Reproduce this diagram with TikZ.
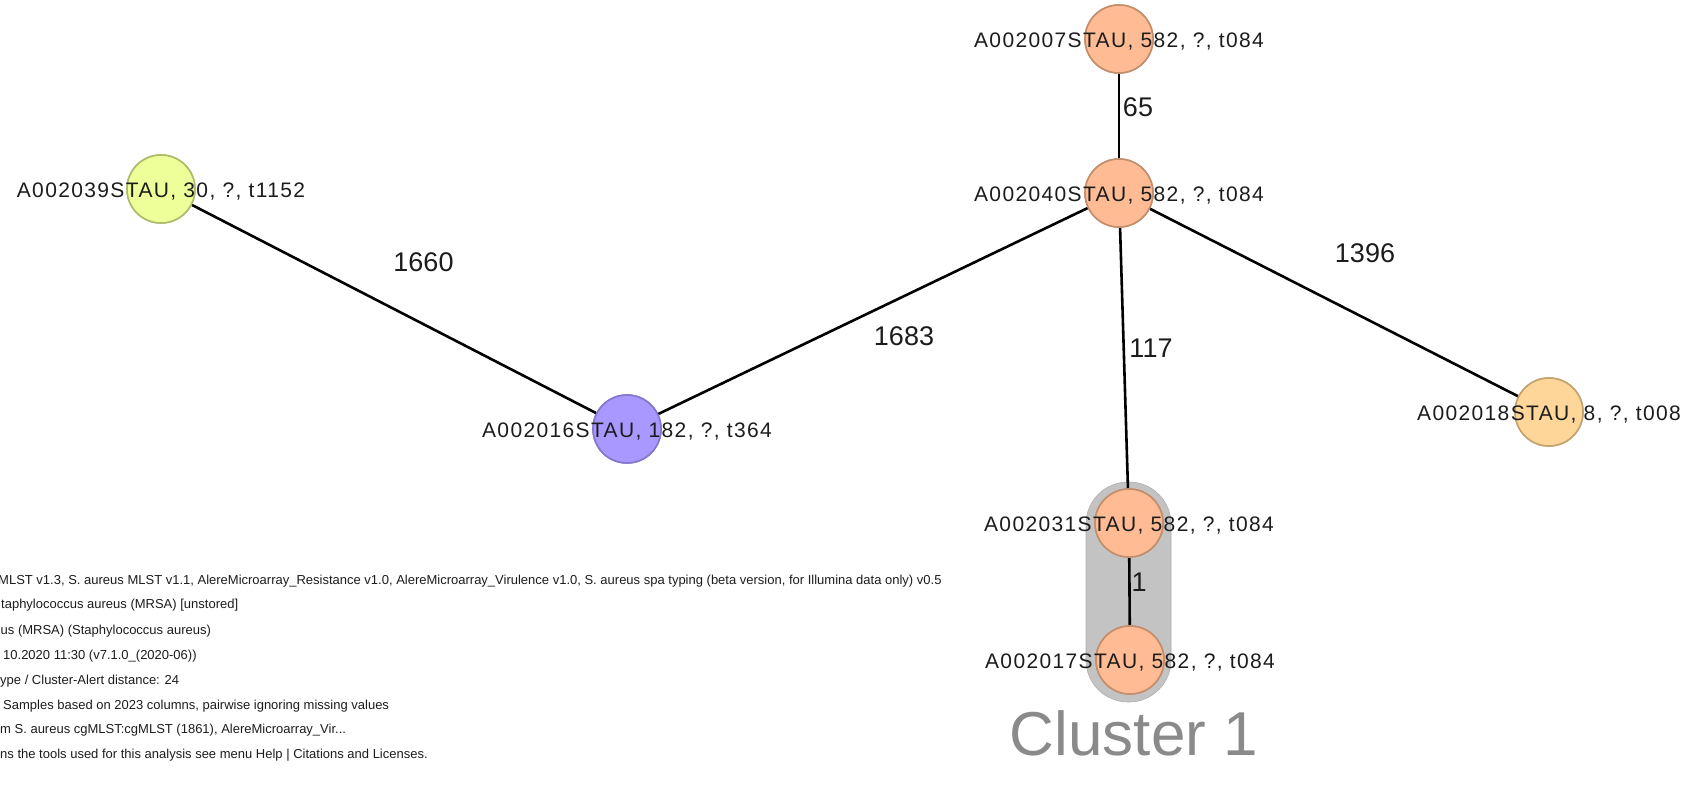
\documentclass[tikz,border=0pt]{standalone}
\usepackage{fontspec}
\setmainfont{Liberation Sans}
\newfontfamily\taglabelfont[LetterSpace=6.5]{Liberation Sans}
\definecolor{peach}{HTML}{FFBC94}
\definecolor{peachline}{HTML}{C48E6C}
\definecolor{lime}{HTML}{EEFF99}
\definecolor{limeline}{HTML}{AEBB6A}
\definecolor{lilac}{HTML}{A898FF}
\definecolor{lilacline}{HTML}{8676CC}
\definecolor{apricot}{HTML}{FFD699}
\definecolor{apricotline}{HTML}{C4A46E}
\definecolor{hullgray}{HTML}{C3C3C3}
\definecolor{captiongray}{HTML}{8A8A8A}
\definecolor{ink}{HTML}{1C1C1C}
\begin{document}
\begin{tikzpicture}[x=1pt,y=-1pt,
  sample/.style={circle, minimum size=68pt, inner sep=0pt, line width=1.6pt},
  peachsample/.style={sample, fill=peach, draw=peachline},
  limesample/.style={sample, fill=lime, draw=limeline},
  lilacsample/.style={sample, fill=lilac, draw=lilacline},
  apricotsample/.style={sample, fill=apricot, draw=apricotline},
  link/.style={line width=2.6pt, draw=black},
  tag/.style={anchor=base, inner sep=0pt, text=ink, font=\taglabelfont\fontsize{21}{25}\selectfont},
  dist/.style={anchor=center, inner sep=0pt, text=ink, font=\fontsize{27}{30}\selectfont},
  legendline/.style={anchor=base west, inner sep=0pt, text=ink, font=\fontsize{13}{15}\selectfont},
  hull/.style={fill=hullgray, draw=hullgray!90!black, line width=0.6pt, rounded corners=42pt,
    minimum width=85pt, minimum height=220pt, inner sep=0pt}
]
\useasboundingbox (0,0) rectangle (1689,790);

% cluster hull behind its two members
\node[hull] (hull1) at (1128.5,592) {};

% sample circles
\node[peachsample]   (n2007) at (1119,39)  {};
\node[peachsample]   (n2040) at (1119,193) {};
\node[limesample]    (n2039) at (161,189)  {};
\node[lilacsample]   (n2016) at (627,429)  {};
\node[apricotsample] (n2018) at (1549,412) {};
\node[peachsample]   (n2031) at (1129,523) {};
\node[peachsample]   (n2017) at (1130,660) {};

% minimum spanning tree links
\draw[link] (n2039) -- (n2016);
\draw[link] (n2016) -- (n2040);
\draw[link] (n2007) -- (n2040);
\draw[link] (n2040) -- (n2018);
\draw[link] (n2040) -- (n2031);
\draw[link] (n2031) -- (n2017);

% redraw circles over the link ends
\node[peachsample]   at (n2007) {};
\node[peachsample]   at (n2040) {};
\node[limesample]    at (n2039) {};
\node[lilacsample]   at (n2016) {};
\node[apricotsample] at (n2018) {};
\node[peachsample]   at (n2031) {};
\node[peachsample]   at (n2017) {};

% sample labels
\node[tag] (t2007) at ([yshift=-8.5pt]n2007.center) {A002007STAU, 582, ?, t084};
\node[tag] (t2040) at ([yshift=-8.5pt]n2040.center) {A002040STAU, 582, ?, t084};
\node[tag] (t2039) at ([yshift=-8.5pt]n2039.center) {A002039STAU, 30, ?, t1152};
\node[tag] (t2016) at ([yshift=-8.5pt]n2016.center) {A002016STAU, 182, ?, t364};
\node[tag] (t2018) at ([yshift=-8.5pt]n2018.center) {A002018STAU, 8, ?, t008};
\node[tag] (t2031) at ([yshift=-8.5pt]n2031.center) {A002031STAU, 582, ?, t084};
\node[tag] (t2017) at ([yshift=-8.5pt]n2017.center) {A002017STAU, 582, ?, t084};

% allele distances
\node[dist] (d1660) at (423.5,262) {1660};
\node[dist] (d1683) at (904,336)   {1683};
\node[dist] (d1396) at (1365,253)  {1396};
\node[dist] (d65)   at (1138,107)  {65};
\node[dist] (d117)  at (1151,348)  {117};
\node[dist] (d1)    at (1139,582)  {1};

% cluster caption
\node[anchor=base, inner sep=0pt, text=captiongray, font=\fontsize{62}{66}\selectfont] (cap1) at (1134,755) {Cluster 1};

% analysis details
\node[legendline] (lg1) at (-2,584) {MLST v1.3, S. aureus MLST v1.1, AlereMicroarray\_Resistance v1.0, AlereMicroarray\_Virulence v1.0, S. aureus spa typing (beta version, for Illumina data only) v0.5};
\node[legendline] (lg2) at (1,608) {taphylococcus aureus (MRSA) [unstored]};
\node[legendline] (lg3) at (0.5,634) {us (MRSA) (Staphylococcus aureus)};
\node[legendline] (lg4) at (3,659) {10.2020 11:30 (v7.1.0\_(2020-06))};
\node[legendline] (lg5) at (0,684) {ype / Cluster-Alert distance: 24};
\node[legendline] (lg6) at (3,709) {Samples based on 2023 columns, pairwise ignoring missing values};
\node[legendline] (lg7) at (0,733) {m S. aureus cgMLST:cgMLST (1861), AlereMicroarray\_Vir...};
\node[legendline] (lg8) at (0,758) {ns the tools used for this analysis see menu Help | Citations and Licenses.};
\end{tikzpicture}
\end{document}
